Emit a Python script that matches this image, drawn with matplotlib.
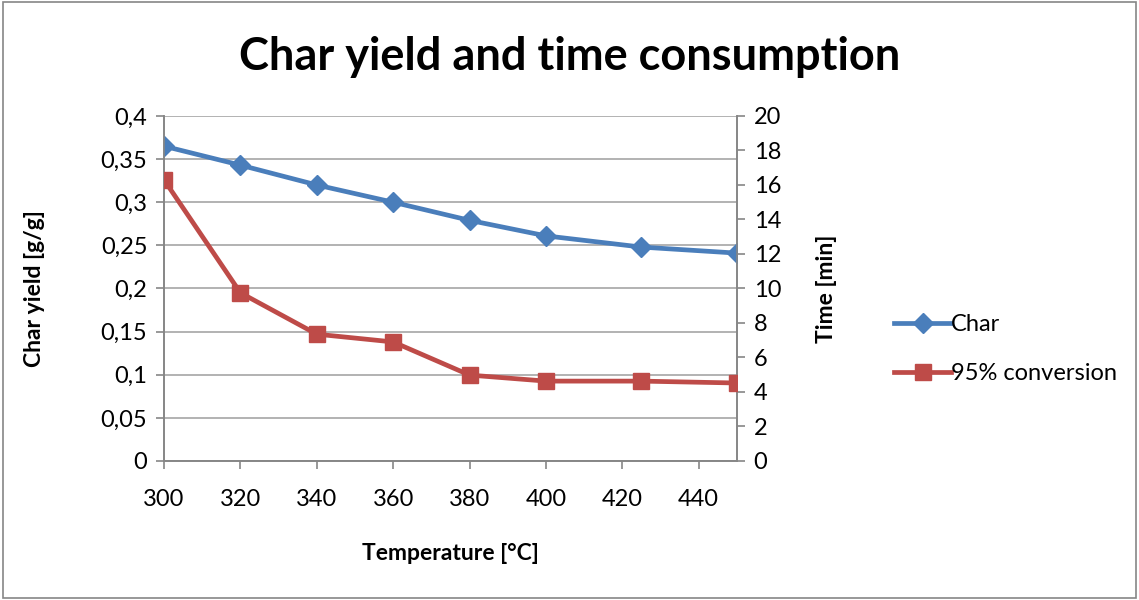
#!/usr/bin/env python3
"""Char yield and time consumption vs. pyrolysis temperature (Excel-style dual axis)."""

import matplotlib.pyplot as plt
from matplotlib.patches import Rectangle

TEMPERATURE = [300, 320, 340, 360, 380, 400, 425, 450]
CHAR_YIELD = [0.365, 0.343, 0.320, 0.300, 0.279, 0.261, 0.248, 0.241]
TIME_95 = [16.3, 9.75, 7.35, 6.9, 4.98, 4.63, 4.63, 4.52]

X_TICKS = [300, 320, 340, 360, 380, 400, 420, 440]
LEFT_TICKS = [0, 0.05, 0.1, 0.15, 0.2, 0.25, 0.3, 0.35, 0.4]
LEFT_LABELS = ["0", "0,05", "0,1", "0,15", "0,2", "0,25", "0,3", "0,35", "0,4"]
RIGHT_TICKS = [0, 2, 4, 6, 8, 10, 12, 14, 16, 18, 20]

BLUE = "#4A7EBB"
RED = "#BE4B48"
GRID = "#A6A6A6"
AXIS = "#868686"

plt.rcParams.update({"font.family": ["Lato", "DejaVu Sans"], "font.size": 17})

fig = plt.figure(figsize=(11.39, 6.0), dpi=100)
fig.patches.append(Rectangle((0.003, 0.003), 0.994, 0.994, transform=fig.transFigure,
                             fill=False, edgecolor=AXIS, linewidth=1.2))

ax = fig.add_axes([0.144, 0.2317, 0.503, 0.575])
ax2 = ax.twinx()

(l1,) = ax.plot(TEMPERATURE, CHAR_YIELD, color=BLUE, linewidth=3.4, marker="D",
                markersize=10, label="Char", zorder=3)
(l2,) = ax2.plot(TEMPERATURE, TIME_95, color=RED, linewidth=3.4, marker="s",
                 markersize=12, label="95% conversion", zorder=3)

ax.set_xlim(300, 450)
ax.set_ylim(0, 0.4)
ax2.set_ylim(0, 20)
ax.set_xticks(X_TICKS)
ax.set_yticks(LEFT_TICKS)
ax.set_yticklabels(LEFT_LABELS)
ax2.set_yticks(RIGHT_TICKS)

ax.grid(axis="y", color=GRID, linewidth=1.2)
ax.set_axisbelow(True)
for a in (ax, ax2):
    a.spines["top"].set_visible(False)
    for side in ("left", "right", "bottom"):
        a.spines[side].set_color(AXIS)
        a.spines[side].set_linewidth(1.2)
    a.tick_params(direction="out", length=6, width=1.2, color=AXIS, labelsize=17, pad=6)
ax.tick_params(axis="x", pad=14)

ax.set_xlabel("Temperature [°C]", fontsize=16.5, fontweight="bold", labelpad=24)
ax.set_ylabel("Char yield [g/g]", fontsize=16.5, fontweight="bold", labelpad=40)
ax2.set_ylabel("Time [min]", fontsize=16.5, fontweight="bold", labelpad=25)

fig.suptitle("Char yield and time consumption", fontsize=32.5, fontweight="bold",
             x=0.5, y=0.94)

fig.legend(handles=[l1, l2], loc="center left", bbox_to_anchor=(0.777, 0.418),
           frameon=False, fontsize=17, handlelength=2.4, handletextpad=0.0,
           labelspacing=1.2, borderaxespad=0)

fig.savefig("out.png", dpi=100)
plt.close(fig)
